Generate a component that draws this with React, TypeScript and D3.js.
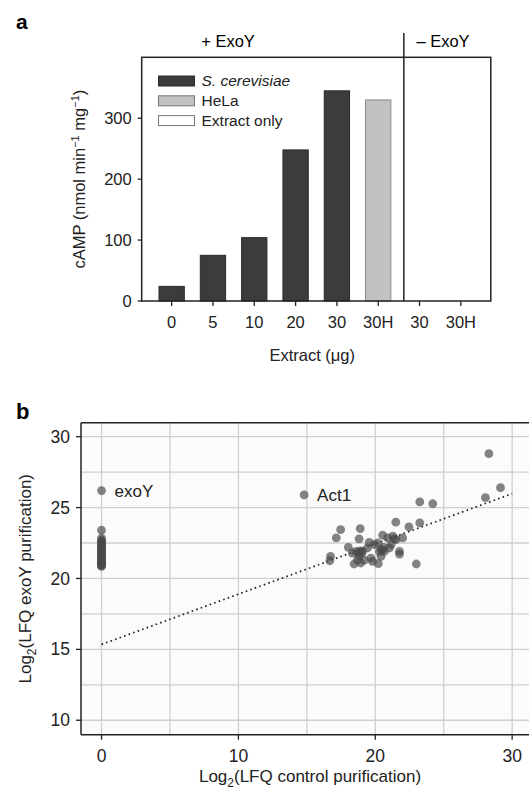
import React from 'react';
import * as d3 from 'd3';

// panel a: cAMP production by extract amount
const barLabels = ['0', '5', '10', '20', '30', '30H', '30', '30H'];
const barValues = [24, 75, 104, 248, 345, 330, 0, 0];
const barGroups = ['yeast', 'yeast', 'yeast', 'yeast', 'yeast', 'hela', 'none', 'none'];
const campTicks = [0, 100, 200, 300];

const legendLabels = ['S. cerevisiae', 'HeLa', 'Extract only'];
const legendKeys = ['yeast', 'hela', 'none'];

// panel b: LFQ scatter (proteins missing in control sit at x = 0)
const zeroColumnY = [
  23.4, 22.85, 22.7, 22.55, 22.4, 22.3, 22.2, 22.1, 22.0, 21.9, 21.8, 21.7, 21.6, 21.5, 21.4,
  21.3, 21.2, 21.1, 21.0, 20.9, 20.85, 22.6, 22.3, 22.0, 21.7, 21.4, 21.1, 20.95,
];
const clusterPoints: [number, number][] = [
  [23.25, 25.4], [24.2, 25.27], [21.5, 23.97], [22.46, 23.64], [23.25, 23.92],
  [17.47, 23.45], [18.9, 23.52], [17.15, 22.86], [16.73, 21.56], [16.68, 21.25],
  [18.03, 22.2], [18.82, 22.79], [19.56, 22.55], [19.93, 22.39], [20.54, 23.05],
  [21.28, 22.98], [22.0, 22.86], [18.58, 21.91], [19.07, 21.91], [18.82, 21.56],
  [18.45, 21.02], [18.94, 21.09], [19.68, 21.44], [19.8, 21.2], [20.22, 21.04],
  [20.42, 22.03], [20.66, 21.91], [21.03, 22.15], [21.77, 21.91], [21.77, 21.72],
  [23.0, 21.02], [20.91, 22.86], [20.17, 22.5], [19.43, 22.15], [18.33, 21.79],
  [20.42, 21.56], [21.16, 22.39], [21.52, 22.74],
  [18.8, 21.85], [19.0, 21.78], [18.9, 21.95], [20.3, 21.9], [20.5, 22.0],
  [19.2, 21.3], [18.7, 21.3], [20.6, 22.2], [21.4, 22.8],
  [28.3, 28.8], [29.15, 26.4], [28.05, 25.7],
];
const labeledPoints: { name: string; x: number; y: number }[] = [
  { name: 'exoY', x: 0, y: 26.2 },
  { name: 'Act1', x: 14.8, y: 25.9 },
];
const fitLine: [number, number][] = [[0, 15.35], [30, 25.98]];
const lfqXTicks = [0, 10, 20, 30];
const lfqXMinor = [5, 15, 25];
const lfqYTicks = [10, 15, 20, 25, 30];
const lfqYMinor = [12.5, 17.5, 22.5, 27.5];

const FONT = 'Liberation Sans, Arial, sans-serif';
const fills: Record<string, string> = { yeast: '#3c3c3c', hela: '#c2c2c2', none: '#ffffff' };
const strokes: Record<string, string> = { yeast: '#2a2a2a', hela: '#8a8a8a', none: '#8a8a8a' };

function PanelA() {
  const left = 141.7, right = 490.8, top = 57.3, bottom = 301;
  const x = d3.scalePoint<number>().domain(d3.range(barLabels.length)).range([left, right]).padding(0.725);
  const y = d3.scaleLinear().domain([0, 400]).range([bottom, top]);
  const barW = 25.3;
  const divX = (x(5) as number) + x.step() * 0.62;

  return (
    <g fontFamily={FONT}>
      <text x={16} y={29} fontSize={21} fontWeight="bold">a</text>
      {barValues.map((v, i) =>
        v > 0 ? (
          <rect key={i} x={(x(i) as number) - barW / 2} y={y(v)} width={barW} height={y(0) - y(v)}
            fill={fills[barGroups[i]]} stroke={strokes[barGroups[i]]} strokeWidth={1} />
        ) : null
      )}
      <rect x={left} y={top} width={right - left} height={bottom - top} fill="none" stroke="#222" strokeWidth={1.5} />
      <line x1={divX} x2={divX} y1={33} y2={bottom} stroke="#222" strokeWidth={1.5} />
      <text x={228} y={47} fontSize={16.5} textAnchor="middle">+ ExoY</text>
      <text x={443} y={47} fontSize={16.5} textAnchor="middle">– ExoY</text>
      {campTicks.map((t) => (
        <g key={t}>
          <line x1={left - 4} x2={left} y1={y(t)} y2={y(t)} stroke="#222" strokeWidth={1.3} />
          <text x={left - 10} y={y(t)} dy="0.35em" fontSize={16.5} textAnchor="end" fill="#222">{t}</text>
        </g>
      ))}
      {barLabels.map((l, i) => (
        <g key={i}>
          <line x1={x(i)} x2={x(i)} y1={bottom} y2={bottom + 5} stroke="#222" strokeWidth={1.3} />
          <text x={x(i)} y={bottom + 27} fontSize={16.5} textAnchor="middle" fill="#222">{l}</text>
        </g>
      ))}
      <text x={(left + right) / 2 - 4} y={361} fontSize={16.5} textAnchor="middle" fill="#222">Extract (μg)</text>
      <text transform={`translate(85,${(top + bottom) / 2}) rotate(-90)`} fontSize={16.5} textAnchor="middle" fill="#222">
        cAMP (nmol min<tspan dy={-6} fontSize={11}>−1</tspan><tspan dy={6}> mg</tspan><tspan dy={-6} fontSize={11}>−1</tspan><tspan dy={6}>)</tspan>
      </text>
      {legendLabels.map((l, i) => (
        <g key={l}>
          <rect x={158.5} y={76 + i * 19.8} width={36} height={10} fill={fills[legendKeys[i]]}
            stroke={i === 0 ? '#2a2a2a' : '#777'} strokeWidth={1} />
          <text x={201.5} y={81 + i * 19.8} dy="0.35em" fontSize={15.5} fontStyle={i === 0 ? 'italic' : 'normal'} fill="#222">{l}</text>
        </g>
      ))}
    </g>
  );
}

function PanelB() {
  const left = 81, right = 545, top = 422.8, bottom = 734.7;
  const x = d3.scaleLinear().domain([-1.5, 32.4]).range([left, right]);
  const y = d3.scaleLinear().domain([8.98, 30.98]).range([bottom, top]);
  const line = d3.line<[number, number]>().x((d) => x(d[0])).y((d) => y(d[1]));
  const allPoints: [number, number][] = [
    ...zeroColumnY.map((v) => [0, v] as [number, number]),
    ...clusterPoints,
    ...labeledPoints.map((p) => [p.x, p.y] as [number, number]),
  ];
  const gridColor = '#cfcfcf';

  return (
    <g fontFamily={FONT}>
      <text x={16} y={419} fontSize={22} fontWeight="bold">b</text>
      <rect x={left} y={top} width={right - left} height={bottom - top} fill="#fbfbfb" />
      {[...lfqXTicks, ...lfqXMinor].map((t) => (
        <line key={'gx' + t} x1={x(t)} x2={x(t)} y1={top} y2={bottom} stroke={gridColor} strokeWidth={1.3} />
      ))}
      {[...lfqYTicks, ...lfqYMinor].map((t) => (
        <line key={'gy' + t} x1={left} x2={right} y1={y(t)} y2={y(t)} stroke={gridColor} strokeWidth={1.3} />
      ))}
      <path d={line(fitLine) ?? ''} fill="none" stroke="#222" strokeWidth={1.7} strokeDasharray="1.6,3.2" />
      {allPoints.map((p, i) => (
        <circle key={i} cx={x(p[0])} cy={y(p[1])} r={4.4} fill="#4a4a4a" fillOpacity={0.68} />
      ))}
      {labeledPoints.map((p) => (
        <text key={p.name} x={x(p.x) + 13} y={y(p.y)} dy="0.35em" fontSize={17} fill="#222">{p.name}</text>
      ))}
      <line x1={left} x2={right} y1={top} y2={top} stroke="#222" strokeWidth={1.5} />
      <line x1={left} x2={left} y1={top} y2={bottom} stroke="#222" strokeWidth={1.5} />
      <line x1={left} x2={right} y1={bottom} y2={bottom} stroke="#222" strokeWidth={1.5} />
      {lfqYTicks.map((t) => (
        <g key={t}>
          <line x1={left - 5} x2={left} y1={y(t)} y2={y(t)} stroke="#222" strokeWidth={1.3} />
          <text x={left - 11} y={y(t)} dy="0.35em" fontSize={17.5} textAnchor="end" fill="#222">{t}</text>
        </g>
      ))}
      {lfqXTicks.map((t) => (
        <g key={t}>
          <line x1={x(t)} x2={x(t)} y1={bottom} y2={bottom + 5} stroke="#222" strokeWidth={1.3} />
          <text x={x(t)} y={bottom + 27} fontSize={17.5} textAnchor="middle" fill="#222">{t}</text>
        </g>
      ))}
      <text x={310} y={782} fontSize={17} textAnchor="middle" fill="#222">
        Log<tspan dy={5} fontSize={12}>2</tspan><tspan dy={-5}>(LFQ control purification)</tspan>
      </text>
      <text transform={`translate(31,${(top + bottom) / 2}) rotate(-90)`} fontSize={17} textAnchor="middle" fill="#222">
        Log<tspan dy={5} fontSize={12}>2</tspan><tspan dy={-5}>(LFQ exoY purification)</tspan>
      </text>
    </g>
  );
}

export default function App() {
  return (
    <svg width={529} height={792} style={{ position: 'absolute', left: 0, top: 0, background: '#fff' }}>
      <PanelA />
      <PanelB />
    </svg>
  );
}
